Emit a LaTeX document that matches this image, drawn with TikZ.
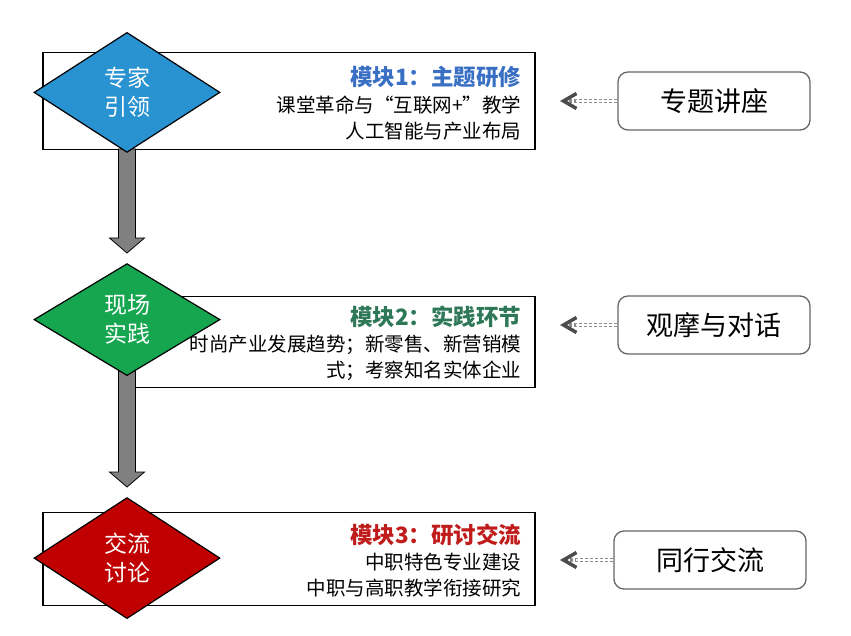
\documentclass[tikz,border=0pt]{standalone}
\usepackage{fontspec}
\setmainfont{Noto Sans CJK SC}
\usetikzlibrary{shapes.geometric,arrows.meta,calc,positioning}

\definecolor{bleu}{RGB}{41,146,208}
\definecolor{vert}{RGB}{22,166,80}
\definecolor{rouge}{RGB}{192,0,0}
\definecolor{bleutitre}{RGB}{58,112,196}
\definecolor{verttitre}{RGB}{46,120,88}
\definecolor{rougetitre}{RGB}{192,28,28}

\newcommand{\titre}[2]{{\fontsize{22.5}{30}\selectfont\bfseries\color{#1}#2}}
% grosse fleche grise entre deux losanges
\newcommand{\grossefleche}[2]{
  \draw[fleche] ($(#1)+(-8.5,-4)$) -- ($(#2)+(-8.5,-25)$) -- ($(#2)+(-17.5,-25)$)
    -- ($(#2)+(0,-10)$) -- ($(#2)+(17.5,-25)$) -- ($(#2)+(8.5,-25)$)
    -- ($(#1)+(8.5,-4)$) -- cycle;
}

\begin{document}
\begin{tikzpicture}[x=1pt, y=-1pt]
        \tikzstyle{cadre}=[draw, line width=1.3pt, fill=white, inner sep=0];
        \tikzstyle{losange}=[diamond, draw, line width=1.2pt, inner sep=0, minimum width=186, minimum height=120, text=white, align=center, font=\fontsize{23}{29}\selectfont];
        \tikzstyle{texte}=[anchor=east, align=right, inner sep=0, font=\fontsize{19.5}{26}\selectfont];
        \tikzstyle{bulle}=[draw=black!60, line width=1.3pt, rounded corners=10, minimum width=192, minimum height=58, font=\fontsize{27}{30}\selectfont];
        \tikzstyle{fleche}=[draw=black, line width=0.8pt, fill=black!50];
        \tikzstyle{lien}=[draw=black!45, line width=4.5pt, dash pattern=on 3pt off 2pt,
          -{Straight Barb[length=13pt, width=15pt, line width=3.5pt, color=black!70]},
          postaction={draw=white, line width=1.3pt, solid, arrows=-, shorten >=16pt}];

        \useasboundingbox (0,0) rectangle (851,636);

        % modules
        \node[cadre, minimum width=492, minimum height=97] (m1) at (289,101) {};
        \node[cadre, minimum width=410, minimum height=91] (m2) at (330,342) {};
        \node[cadre, minimum width=492, minimum height=93] (m3) at (289,559) {};

        \node[texte] (t1) at ($(m1.east)+(-14,2)$) {\titre{bleutitre}{模块1：主题研修}\\[1pt]课堂革命与“互联网+”教学\\人工智能与产业布局};
        \node[texte] (t2) at ($(m2.east)+(-14,1)$) {\titre{verttitre}{模块2：实践环节}\\时尚产业发展趋势；新零售、新营销模\\式；考察知名实体企业};
        \node[texte] (t3) at ($(m3.east)+(-14,2)$) {\titre{rougetitre}{模块3：研讨交流}\\中职特色专业建设\\中职与高职教学衔接研究};

        % fleches
        \coordinate (b1) at (127,153);
        \coordinate (h2) at (127,263);
        \coordinate (b2) at (127,375);
        \coordinate (h3) at (127,497);
        \grossefleche{b1}{h2}
        \grossefleche{b2}{h3}

        % losanges
        \node[losange, fill=bleu] (d1) at (b1) [anchor=south] {专家\\引领};
        \node[losange, fill=vert, minimum height=112] (d2) at (h2) [anchor=north] {现场\\实践};
        \node[losange, fill=rouge, minimum height=121] (d3) at (h3) [anchor=north] {交流\\讨论};

        % activites
        \node[bulle] (a1) at (714,101) {专题讲座};
        \node[bulle] (a2) at (714,325) {观摩与对话};
        \node[bulle] (a3) at (710,560) {同行交流};

        \foreach \i in {1,2,3}{
          \coordinate (p\i) at (560, 0 |- a\i.west);
          \draw[lien] (a\i.west) -- (p\i);
        }
    \end{tikzpicture}
\end{document}
